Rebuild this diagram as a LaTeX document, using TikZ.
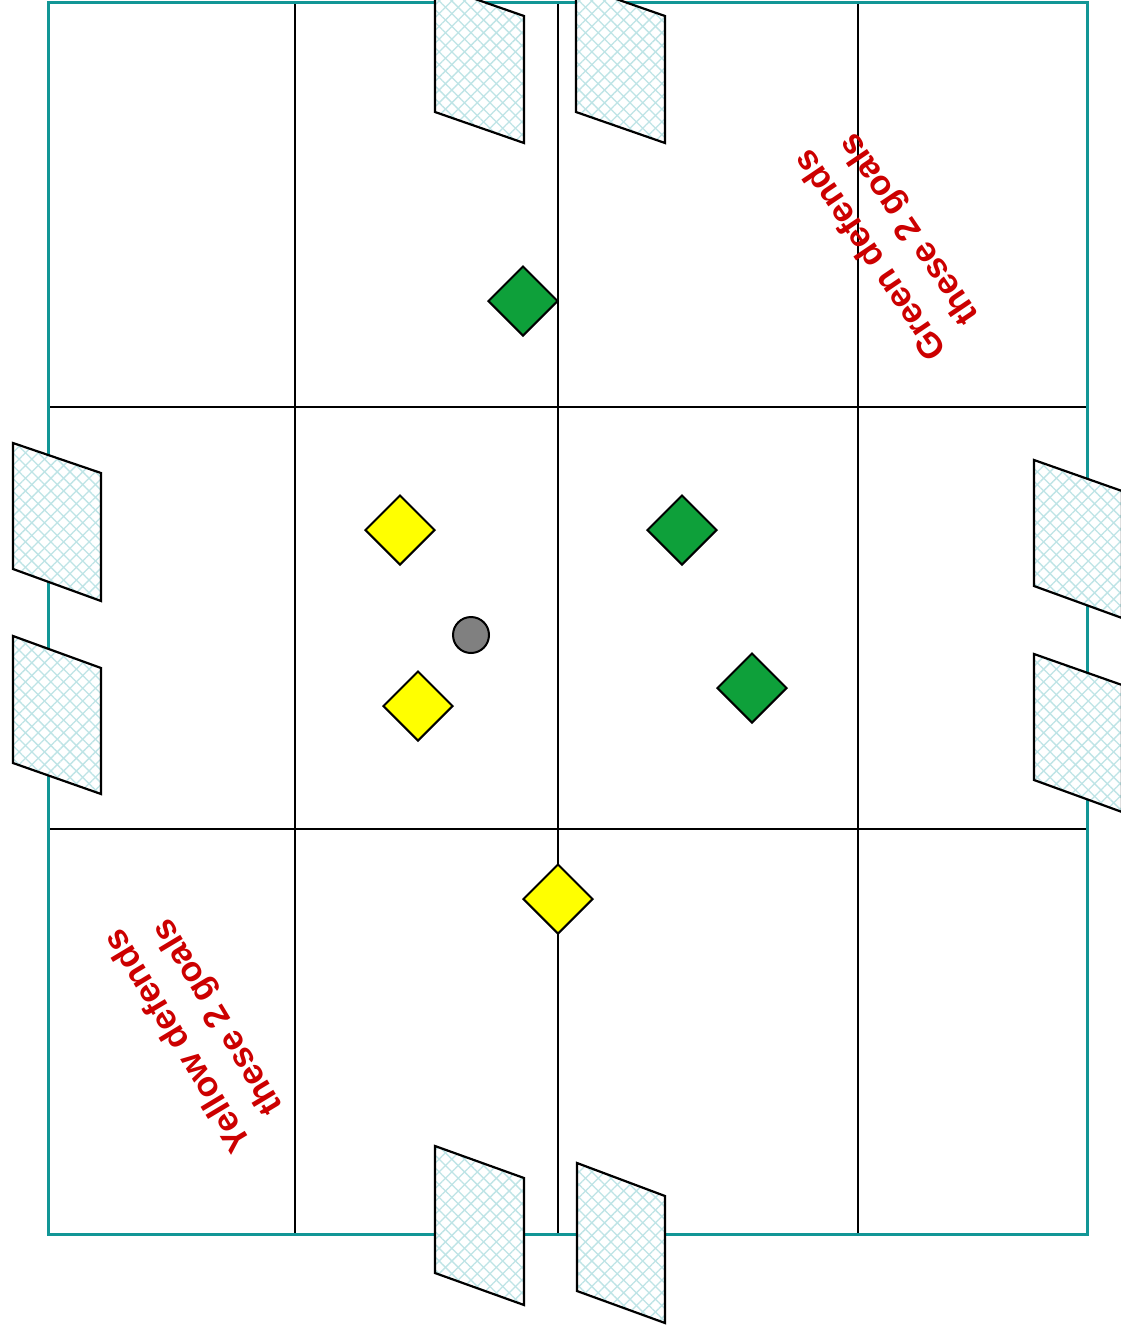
\documentclass[tikz,border=0pt]{standalone}
\usepackage{fontspec}
\setmainfont{Liberation Sans}
\usetikzlibrary{shapes.geometric,patterns.meta}
\definecolor{fieldteal}{RGB}{18,150,150}
\definecolor{netcol}{RGB}{190,228,230}
\definecolor{teamgreen}{RGB}{14,160,58}
\definecolor{teamyellow}{RGB}{255,255,0}
\definecolor{labelred}{RGB}{204,0,0}
\tikzset{
  gridline/.style={black, line width=2.2pt},
  border/.style={draw=fieldteal, line width=3pt},
  goalnet/.style={draw=black, line width=2.2pt, line join=miter,
    preaction={fill=white},
    preaction={pattern={Lines[angle=45,distance=9pt,line width=1.3pt]}, pattern color=netcol},
    pattern={Lines[angle=-45,distance=9pt,line width=1.3pt]}, pattern color=netcol},
  robot/.style={diamond, aspect=1, draw=black, line width=2pt, minimum size=70pt, inner sep=0pt},
  ballstyle/.style={circle, draw=black, line width=2pt, fill=gray, minimum size=36pt, inner sep=0pt},
  teamlabel/.style={text=labelred, align=center, font=\fontsize{35}{46}\selectfont\bfseries}
}
\begin{document}
\begin{tikzpicture}[x=1pt,y=-1pt]
\useasboundingbox (0,0) rectangle (1120,1331);
\fill[white] (0,0) rectangle (1120,1331);
% field corners
\coordinate (TL) at (48,2);
\coordinate (BR) at (1087,1234);
% grid lines
\coordinate (v1t) at (295,2);   \coordinate (v1b) at (295,1234);
\coordinate (v2t) at (558,2);   \coordinate (v2b) at (558,1234);
\coordinate (v3t) at (858,2);   \coordinate (v3b) at (858,1234);
\coordinate (h1l) at (48,407);  \coordinate (h1r) at (1087,407);
\coordinate (h2l) at (48,829);  \coordinate (h2r) at (1087,829);
\draw[gridline] (v1t) -- (v1b);
\draw[gridline] (v2t) -- (v2b);
\draw[gridline] (v3t) -- (v3b);
\draw[gridline] (h1l) -- (h1r);
\draw[gridline] (h2l) -- (h2r);
\draw[border] (TL) rectangle (BR);
% goals (top)
\draw[goalnet] (435,-15) -- (524,16) -- (524,143) -- (435,112) -- cycle;
\draw[goalnet] (576,-15) -- (665,16) -- (665,143) -- (576,112) -- cycle;
% goals (bottom)
\draw[goalnet] (435,1146) -- (524,1178) -- (524,1305) -- (435,1273) -- cycle;
\draw[goalnet] (577,1163) -- (665,1196) -- (665,1323) -- (577,1291) -- cycle;
% goals (left)
\draw[goalnet] (13,443) -- (101,473) -- (101,601) -- (13,569) -- cycle;
\draw[goalnet] (13,636) -- (101,668) -- (101,794) -- (13,763) -- cycle;
% goals (right)
\draw[goalnet] (1034,460) -- (1122,491) -- (1122,618) -- (1034,586) -- cycle;
\draw[goalnet] (1034,654) -- (1122,685) -- (1122,812) -- (1034,780) -- cycle;
% robots
\node[robot, fill=teamgreen] (g1) at (523,301) {};
\node[robot, fill=teamgreen] (g2) at (682,530) {};
\node[robot, fill=teamgreen] (g3) at (752,688) {};
\node[robot, fill=teamyellow] (y1) at (400,530) {};
\node[robot, fill=teamyellow] (y2) at (418,706) {};
\node[robot, fill=teamyellow] (y3) at (558,899) {};
\node[ballstyle] (ball) at (471,635) {};
% labels
\node[teamlabel, rotate=124] (glabel) at (891,241) {Green defends\\these 2 goals};
\node[teamlabel, rotate=121] (ylabel) at (199,1028) {Yellow defends\\these 2 goals};
\end{tikzpicture}
\end{document}
